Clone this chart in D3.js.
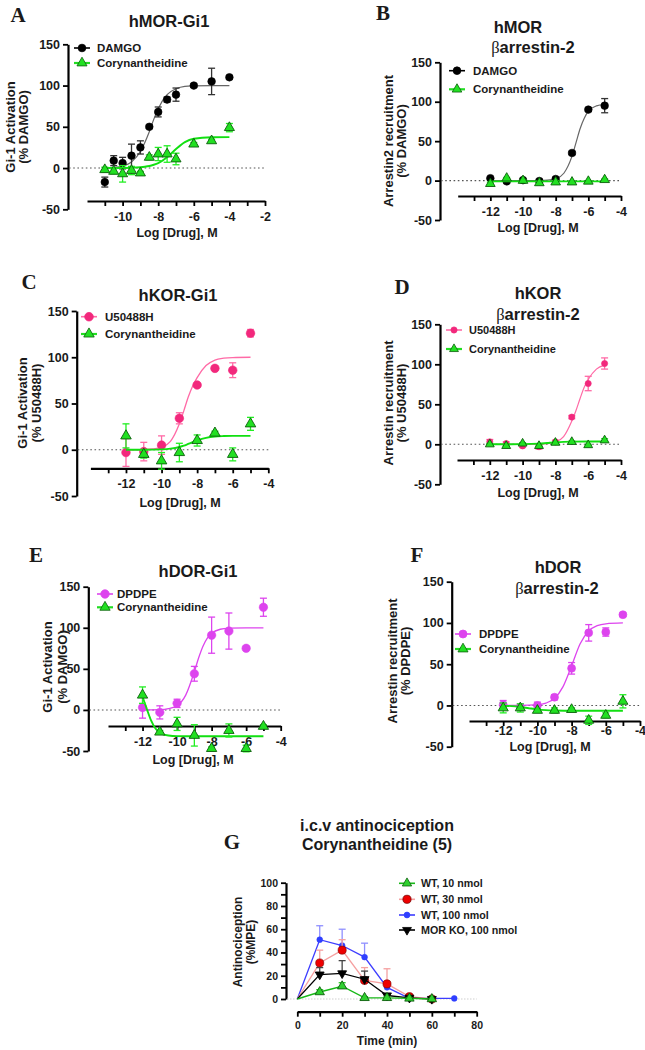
<!DOCTYPE html>
<html>
<head>
<meta charset="utf-8">
<script src="https://cdn.jsdelivr.net/npm/d3@7"></script>
<style>
body { margin: 0; background: #fff; }
text { font-family: "Liberation Sans", Arial, sans-serif; font-weight: bold; fill: #1a1a1a; }
</style>
</head>
<body>
<svg id="fig" width="645" height="1050"></svg>
<script>
// ---- panel A: hMOR-Gi1 ----
var logA = [-11, -10.5, -10, -9.5, -9, -8.5, -8, -7.5, -7, -6, -5, -4];
var damgoGi = [-17, 9, 6, 15, 25, 50, 68, 83, 89, 100, 105, 110];
var damgoGiErr = [6, 6, 7, 14, 8, 2, 6, 3, 8, 2, 16, 2];
var coryMorGi = [-2, -4, -7, -3, -6, 13, 17, 17, 11, 29, 33, 49];
var coryMorGiErr = [3, 3, 10, 5, 2, 3, 8, 10, 7, 2, 2, 5];
var fitAx = [-11, -10.5, -10, -9.5, -9, -8.75, -8.5, -8.25, -8, -7.5, -7, -6.5, -6, -5, -4];
var fitDamgoGi = [0.3, 0.8, 2.5, 7.4, 20, 31, 44, 59, 72, 89, 96, 99, 99.6, 100, 100];
var fitCoryMorGi = [0, 0, 0.1, 0.3, 1, 1.6, 2.5, 4, 6, 13, 23, 31.5, 35.5, 37.3, 37.5];

// ---- shared concentrations for B-F ----
var logB = [-12, -11, -10, -9, -8, -7, -6, -5];

// ---- panel B: hMOR barrestin-2 ----
var damgoArr = [3, -1, 0.5, -0.5, 2, 35, 90, 95];
var damgoArrErr = [1, 2, 1, 2, 2, 2, 2, 9];
var coryMorArr = [-4, 3, 0, -3, -2, -2, -1, 1];
var coryMorArrErr = [2, 1, 1, 2, 2, 1, 1, 1];
var fitBx = [-12, -11, -10, -9, -8.5, -8, -7.5, -7, -6.75, -6.5, -6.25, -6, -5.5, -5];
var fitDamgoArr = [0, 0, 0, 0.1, 0.5, 2.2, 9.3, 31, 48.5, 66, 79, 88, 94.7, 96.5];
var fitCoryMorArrX = [-12, -5];
var fitCoryMorArr = [-1, -1];

// ---- panel C: hKOR-Gi1 ----
var u50Gi = [-3, -2, 5, 34, 70, 88, 86, 126];
var u50GiErr = [15, 10, 10, 6, 2, 2, 8, 4];
var coryKorGi = [15, -5, -12, -3, 10, 18, -5, 28];
var coryKorGiErr = [13, 4, 9, 10, 6, 2, 7, 7];
var fitCx = [-12, -11, -10.5, -10, -9.5, -9, -8.75, -8.5, -8.25, -8, -7.5, -7, -6.5, -6, -5];
var fitU50Gi = [0, 0.2, 0.8, 2.8, 9, 28, 42, 57, 69, 78, 91, 97, 99, 99.7, 100];
var fitCoryKorGi = [0, 0.05, 0.15, 0.4, 1.2, 3, 4.4, 6.3, 8.2, 10, 12.8, 14.3, 14.8, 15, 15];

// ---- panel D: hKOR barrestin-2 ----
var u50Arr = [3, 1, -2, -3, 3, 34, 76, 101];
var u50ArrErr = [3, 2, 2, 3, 2, 2, 9, 7];
var coryKorArr = [0, -2, 1, -2, 2, 3, -1, 5];
var coryKorArrErr = [1, 1, 1, 1, 1, 1, 1, 2];
var fitDx = [-12, -11, -10, -9, -8.5, -8, -7.5, -7, -6.75, -6.5, -6.25, -6, -5.5, -5];
var fitU50Arr = [0, 0, 0, 0.2, 0.8, 2.9, 9.5, 29, 42, 57, 71, 81, 94, 99];
var fitCoryKorArrX = [-12, -10, -9, -8.5, -8, -7.5, -7, -6, -5];
var fitCoryKorArr = [0, 0.2, 0.8, 1.6, 2.4, 3, 3.3, 3.5, 3.5];

// ---- panel E: hDOR-Gi1 ----
var dpdpeGi = [3, -3, 8, 44, 91, 96, 75, 125];
var dpdpeGiErr = [13, 8, 5, 9, 22, 22, 2, 11];
var coryDorGi = [18, -27, -17, -31, -47, -25, -47, -20];
var coryDorGiErr = [10, 2, 8, 13, 2, 8, 4, 2];
var fitEx = [-12, -11, -10.5, -10, -9.5, -9, -8.75, -8.5, -8.25, -8, -7.5, -7, -6, -5];
var fitDpdpeGi = [0, 0.4, 1.6, 5.2, 18, 46.5, 63.5, 77.6, 87.4, 93.2, 98.2, 99.5, 100, 100];
var fitCoryDorGiX = [-12, -11.75, -11.5, -11.25, -11, -10.5, -10, -9, -8, -5];
var fitCoryDorGi = [16, 1, -13, -22.6, -27.7, -31.2, -31.9, -32, -32, -32];

// ---- panel F: hDOR barrestin-2 ----
var dpdpeArr = [1, -2, 0, 10, 45, 88, 89, 110];
var dpdpeArrErr = [5, 4, 4, 3, 7, 10, 5, 2];
var coryDorArr = [-3, -3, -6, -6, -5, -18, -12, 5];
var coryDorArrErr = [6, 5, 2, 3, 2, 5, 3, 8];
var fitFx = [-12, -11, -10, -9.5, -9, -8.5, -8, -7.5, -7, -6.5, -6, -5];
var fitDpdpeArr = [0, 0.1, 0.9, 2.9, 8.5, 22.8, 48, 74.7, 90.3, 96.7, 99, 100];
var fitCoryDorArrX = [-12, -11.5, -11, -10.5, -10, -9.5, -9, -8, -7, -5];
var fitCoryDorArr = [-0.3, -0.8, -1.9, -3.4, -4.8, -5.7, -6.1, -6.4, -6.5, -6.5];

// ---- panel G: i.c.v antinociception ----
var timeG = [0, 10, 20, 30, 40, 50, 60];
var timeG100 = [0, 10, 20, 30, 40, 50, 60, 70];
var wt10 = [0, 6, 11, 1, 1, 0.5, 0];
var wt10Err = [0, 2, 3, 1, 1, 0.5, 0];
var wt30 = [0, 31, 42, 16, 13, 2, 0];
var wt30Err = [0, 11, 9, 11, 13, 1, 0];
var wt100 = [0, 51, 46, 36, 10, 0.5, 0.5, 0.5];
var wt100Err = [0, 12, 14, 12, 0, 0, 0, 0];
var morKo = [0, 21, 22, 17, 3, 1, 0];
var morKoErr = [0, 6, 11, 7, 1, 0, 0];

var logTicks = [-13, -12, -11, -10, -9, -8, -7, -6, -5, -4];
var logLabels = [-12, -10, -8, -6, -4];
var pctTicks = [-50, 0, 50, 100, 150];
var timeTicks = [0, 10, 20, 30, 40, 50, 60, 70, 80];
var timeLabels = [0, 20, 40, 60, 80];
var mpeTicks = [0, 10, 20, 30, 40, 50, 60, 70, 80, 90, 100];
var mpeLabels = [0, 20, 40, 60, 80, 100];

var GREEN = '#22e022', GREEN_DK = '#0b5f0b';
var PINK = '#f2287c', MAGENTA = '#dd44ee';

var svg = d3.select('#fig');

function symbolPath(kind, size) {
    var t = kind === 'circle' ? d3.symbolCircle : d3.symbolTriangle;
    return d3.symbol().type(t).size(size)();
}

function drawSeries(g, x, y, s) {
    if (s.fitX) {
        var line = d3.line().x(function(d){ return x(d[0]); }).y(function(d){ return y(d[1]); });
        line.curve(s.straight ? d3.curveLinear : d3.curveMonotoneX);
        g.append('path')
            .datum(d3.zip(s.fitX, s.fitY))
            .attr('d', line)
            .attr('fill', 'none')
            .attr('stroke', s.lineColor)
            .attr('stroke-width', s.lineW || 1.3);
    }
    var pts = d3.zip(s.xs, s.ys, s.err);
    var eb = g.append('g').attr('stroke', s.errColor).attr('stroke-width', 1.3).attr('fill', 'none');
    pts.forEach(function(p) {
        if (!p[2]) return;
        var top = y(p[1] + p[2]), bot = s.upOnly ? y(p[1]) : y(p[1] - p[2]);
        eb.append('line').attr('x1', x(p[0])).attr('x2', x(p[0])).attr('y1', top).attr('y2', bot);
        eb.append('line').attr('x1', x(p[0]) - 3.5).attr('x2', x(p[0]) + 3.5).attr('y1', top).attr('y2', top);
        if (!s.upOnly) eb.append('line').attr('x1', x(p[0]) - 3.5).attr('x2', x(p[0]) + 3.5).attr('y1', bot).attr('y2', bot);
    });
    // the time-course plots show no marker at the t = 0 origin
    var marked = s.skipFirst ? pts.slice(1) : pts;
    g.append('g').selectAll('path').data(marked).join('path')
        .attr('d', symbolPath(s.kind, s.size))
        .attr('transform', function(d){
            return 'translate(' + x(d[0]) + ',' + y(d[1]) + ')' + (s.flip ? ' rotate(180)' : '');
        })
        .attr('fill', s.fill)
        .attr('stroke', s.stroke)
        .attr('stroke-width', s.kind === 'circle' ? 0.6 : 0.9);
}

function drawLegend(lg, series) {
    series.forEach(function(s, i) {
        var yy = lg.rows[i];
        svg.append('line').attr('x1', lg.mx - 8).attr('x2', lg.mx + 8).attr('y1', yy).attr('y2', yy)
            .attr('stroke', s.legendLine || s.lineColor).attr('stroke-width', s.legendW || 1.6);
        svg.append('path').attr('d', symbolPath(s.kind, s.size))
            .attr('transform', 'translate(' + lg.mx + ',' + yy + ')' + (s.flip ? ' rotate(180)' : ''))
            .attr('fill', s.fill).attr('stroke', s.stroke).attr('stroke-width', 0.8);
        svg.append('text').attr('x', lg.tx).attr('y', yy).attr('dominant-baseline', 'central')
            .attr('font-size', lg.fs || 11.5).text(s.name);
    });
}

function drawText(item, opts) {
    var t = svg.append('text').attr('x', item[1]).attr('y', item[2])
        .attr('text-anchor', 'middle').attr('dominant-baseline', 'central')
        .attr('font-size', opts.fs);
    if (opts.rotate) t.attr('transform', 'rotate(-90,' + item[1] + ',' + item[2] + ')');
    if (opts.serif) t.style('font-family', '"Liberation Serif", "Times New Roman", serif');
    if (item[0].charAt(0) === 'β') {
        t.append('tspan').style('font-family', '"Liberation Serif", serif').style('font-weight', 'normal').text('β');
        t.append('tspan').text(item[0].slice(1));
    } else {
        t.text(item[0]);
    }
}

function drawPanel(p) {
    var x = d3.scaleLinear().domain(p.xDomain).range(p.xRange);
    var y = d3.scaleLinear().domain(p.yDomain).range(p.yRange);
    var g = svg.append('g');

    var yAxis = d3.axisLeft(y).tickValues(p.yTicks).tickSize(5).tickSizeOuter(0).tickPadding(3)
        .tickFormat(function(d){ return !p.yLabels || p.yLabels.indexOf(d) >= 0 ? String(d) : ''; });
    var yg = g.append('g').attr('transform', 'translate(' + p.yAxisX + ',0)').call(yAxis);
    var xAxis = d3.axisBottom(x).tickValues(p.xTicks).tickSize(5).tickSizeOuter(0)
        .tickPadding(p.xPad === undefined ? 6 : p.xPad)
        .tickFormat(function(d){ return p.xLabels.indexOf(d) >= 0 ? String(d) : ''; });
    var xg = g.append('g').attr('transform', 'translate(0,' + p.xAxisY + ')').call(xAxis);
    [yg, xg].forEach(function(a) {
        a.attr('font-family', null).attr('font-size', p.tickFs || 12.5);
        a.select('.domain').attr('stroke', '#000').attr('stroke-width', 2.2);
        a.selectAll('.tick line').attr('stroke', '#000').attr('stroke-width', 1.8);
        a.selectAll('.tick text').attr('fill', '#222');
    });

    g.append('line')
        .attr('x1', p.yAxisX + 1).attr('x2', p.xRange[1])
        .attr('y1', y(0)).attr('y2', y(0))
        .attr('stroke', p.zeroColor || '#555').attr('stroke-width', 1.1)
        .attr('stroke-dasharray', p.zeroDash || '1.6,2.6');

    p.series.forEach(function(s){ drawSeries(g, x, y, s); });
    drawLegend(p.legend, p.legendSeries || p.series);

    p.title.forEach(function(t){ drawText(t, { fs: p.titleFs || 16.5 }); });
    p.ylab.forEach(function(t){ drawText(t, { fs: p.labFs || 13, rotate: true }); });
    drawText(p.xlab, { fs: p.labFs || 12.5 });
    drawText(p.letter, { fs: 21, serif: true });
}

function cory(xs, ys, err, fx, fy, size) {
    return { name: 'Corynantheidine', kind: 'tri', xs: xs, ys: ys, err: err, fitX: fx, fitY: fy,
             fill: GREEN, stroke: GREEN_DK, size: size || 42, lineColor: '#11e011', lineW: 1.9,
             errColor: '#22ee22', legendLine: '#22dd22', legendW: 2.2 };
}

// A
drawPanel({
    xDomain: [-12, -2], xRange: [87, 265], xAxisY: 201,
    xTicks: [-11, -10, -9, -8, -7, -6, -5, -4, -3, -2], xLabels: [-10, -8, -6, -4, -2],
    yDomain: [-50, 150], yRange: [209.3, 44.3], yAxisX: 68, yTicks: pctTicks,
    series: [
        { name: 'DAMGO', kind: 'circle', xs: logA, ys: damgoGi, err: damgoGiErr, fitX: fitAx, fitY: fitDamgoGi,
          fill: '#000', stroke: '#000', size: 46, lineColor: '#666', lineW: 1.2, errColor: '#333', legendLine: '#000' },
        cory(logA, coryMorGi, coryMorGiErr, fitAx, fitCoryMorGi, 44)
    ],
    legend: { mx: 82, tx: 97, rows: [48, 63], fs: 11.5 },
    title: [['hMOR-Gi1', 169, 21]],
    ylab: [['Gi-1 Activation', 10, 127], ['(% DAMGO)', 23, 127]],
    xlab: ['Log [Drug], M', 177, 233],
    letter: ['A', 18, 15]
});

// B
drawPanel({
    xDomain: [-14, -4], xRange: [457.7, 621], xAxisY: 196,
    xTicks: logTicks, xLabels: logLabels,
    yDomain: [-50, 150], yRange: [220, 62.3], yAxisX: 440, yTicks: pctTicks,
    series: [
        { name: 'DAMGO', kind: 'circle', xs: logB, ys: damgoArr, err: damgoArrErr, fitX: fitBx, fitY: fitDamgoArr,
          fill: '#000', stroke: '#000', size: 46, lineColor: '#666', lineW: 1.2, errColor: '#333', legendLine: '#000' },
        cory(logB, coryMorArr, coryMorArrErr, fitCoryMorArrX, fitCoryMorArr, 40)
    ],
    legend: { mx: 457, tx: 473, rows: [70.7, 89.3], fs: 11.5 },
    title: [['hMOR', 518, 27], ['βarrestin-2', 533, 47]],
    ylab: [['Arrestin2 recruitment', 388, 141], ['(% DAMGO)', 401, 141]],
    xlab: ['Log [Drug], M', 538, 228],
    letter: ['B', 383, 13]
});

// C
drawPanel({
    xDomain: [-14, -4], xRange: [90.4, 268.3], xAxisY: 468.3,
    xTicks: logTicks, xLabels: logLabels,
    yDomain: [-50, 150], yRange: [496, 311], yAxisX: 76.7, yTicks: pctTicks,
    series: [
        { name: 'U50488H', kind: 'circle', xs: logB, ys: u50Gi, err: u50GiErr, fitX: fitCx, fitY: fitU50Gi,
          fill: PINK, stroke: PINK, size: 58, lineColor: '#ff6aa6', lineW: 1.3, errColor: '#ff6aa6' },
        cory(logB, coryKorGi, coryKorGiErr, fitCx, fitCoryKorGi, 48)
    ],
    legend: { mx: 89, tx: 105, rows: [316.7, 334], fs: 11.5 },
    title: [['hKOR-Gi1', 178, 295]],
    ylab: [['Gi-1 Activation', 22, 403], ['(% U50488H)', 36, 403]],
    xlab: ['Log [Drug], M', 180, 503],
    letter: ['C', 29, 282]
});

// D
drawPanel({
    xDomain: [-14, -4], xRange: [457, 621], xAxisY: 460,
    xTicks: logTicks, xLabels: logLabels,
    yDomain: [-50, 150], yRange: [484.3, 324.3], yAxisX: 440, yTicks: pctTicks,
    series: [
        { name: 'U50488H', kind: 'circle', xs: logB, ys: u50Arr, err: u50ArrErr, fitX: fitDx, fitY: fitU50Arr,
          fill: PINK, stroke: PINK, size: 30, lineColor: '#ff6aa6', lineW: 1.2, errColor: '#ff6aa6' },
        cory(logB, coryKorArr, coryKorArrErr, fitCoryKorArrX, fitCoryKorArr, 34)
    ],
    legend: { mx: 454, tx: 469, rows: [330, 349], fs: 11 },
    title: [['hKOR', 538, 293], ['βarrestin-2', 538, 314]],
    ylab: [['Arrestin recruitment', 388, 403], ['(% U50488H)', 401, 403]],
    xlab: ['Log [Drug], M', 538, 493],
    letter: ['D', 402, 287]
});

// E
drawPanel({
    xDomain: [-14, -4], xRange: [108, 280.7], xAxisY: 726,
    xTicks: logTicks, xLabels: logLabels,
    yDomain: [-50, 150], yRange: [751, 586.7], yAxisX: 88.3, yTicks: pctTicks,
    series: [
        { name: 'DPDPE', kind: 'circle', xs: logB, ys: dpdpeGi, err: dpdpeGiErr, fitX: fitEx, fitY: fitDpdpeGi,
          fill: MAGENTA, stroke: MAGENTA, size: 56, lineColor: MAGENTA, lineW: 1.3, errColor: MAGENTA },
        cory(logB, coryDorGi, coryDorGiErr, fitCoryDorGiX, fitCoryDorGi, 46)
    ],
    legend: { mx: 105, tx: 117, rows: [594, 607.3], fs: 11.5 },
    title: [['hDOR-Gi1', 198, 571]],
    ylab: [['Gi-1 Activation', 47, 667], ['(% DAMGO)', 62, 667]],
    xlab: ['Log [Drug], M', 193, 760],
    letter: ['E', 36, 555]
});

// F
drawPanel({
    xDomain: [-14, -4], xRange: [469, 640], xAxisY: 721, xPad: 0,
    xTicks: logTicks, xLabels: logLabels,
    yDomain: [-50, 150], yRange: [746.7, 581.7], yAxisX: 451.7, yTicks: pctTicks,
    series: [
        { name: 'DPDPE', kind: 'circle', xs: logB, ys: dpdpeArr, err: dpdpeArrErr, fitX: fitFx, fitY: fitDpdpeArr,
          fill: MAGENTA, stroke: MAGENTA, size: 50, lineColor: MAGENTA, lineW: 1.3, errColor: MAGENTA },
        cory(logB, coryDorArr, coryDorArrErr, fitCoryDorArrX, fitCoryDorArr, 44)
    ],
    legend: { mx: 463, tx: 479, rows: [634, 649], fs: 11.5 },
    title: [['hDOR', 558, 567], ['βarrestin-2', 557, 588]],
    ylab: [['Arrestin recruitment', 392, 661], ['(% DPDPE)', 405, 661]],
    xlab: ['Log [Drug], M', 550, 747],
    letter: ['F', 417, 555]
});

// G
var gWt100 = { name: 'WT, 100 nmol', kind: 'circle', xs: timeG100, ys: wt100, err: wt100Err, fitX: timeG100, fitY: wt100,
    straight: true, upOnly: true, skipFirst: true, fill: '#2f3fff', stroke: '#2f3fff', size: 26, lineColor: '#3d3dff', lineW: 1.3, errColor: '#8f8fff' };
var gWt30 = { name: 'WT, 30 nmol', kind: 'circle', xs: timeG, ys: wt30, err: wt30Err, fitX: timeG, fitY: wt30,
    straight: true, upOnly: true, skipFirst: true, fill: '#ee0000', stroke: '#7a0000', size: 52, lineColor: '#f5a0a0', lineW: 1.4, errColor: '#f5a0a0' };
var gKo = { name: 'MOR KO, 100 nmol', kind: 'tri', flip: true, xs: timeG, ys: morKo, err: morKoErr, fitX: timeG, fitY: morKo,
    straight: true, upOnly: true, skipFirst: true, fill: '#000', stroke: '#000', size: 34, lineColor: '#000', lineW: 1.3, errColor: '#444' };
var gWt10 = { name: 'WT, 10 nmol', kind: 'tri', xs: timeG, ys: wt10, err: wt10Err, fitX: timeG, fitY: wt10,
    straight: true, upOnly: true, skipFirst: true, fill: '#2fd02f', stroke: '#0b5f0b', size: 38, lineColor: '#18b818', lineW: 1.4, errColor: '#22cc22' };

drawPanel({
    xDomain: [0, 80], xRange: [297.3, 476.7], xAxisY: 1011.7,
    xTicks: timeTicks, xLabels: timeLabels, xPad: 5, tickFs: 10.5,
    yDomain: [0, 100], yRange: [999, 882.7], yAxisX: 286, yTicks: mpeTicks, yLabels: mpeLabels,
    zeroColor: '#cfcfcf', zeroDash: '1.5,1.5',
    series: [gWt100, gWt30, gKo, gWt10],
    legendSeries: [gWt10, gWt30, gWt100, gKo],
    legend: { mx: 407, tx: 421, rows: [883.3, 899.3, 915, 930], fs: 10.7 },
    title: [['i.c.v antinociception', 377, 825], ['Corynantheidine (5)', 377, 844]],
    titleFs: 16,
    ylab: [['Antinociception', 238, 942], ['(%MPE)', 251, 942]],
    labFs: 12,
    xlab: ['Time (min)', 387, 1041],
    letter: ['G', 232, 842]
});
</script>
</body>
</html>
